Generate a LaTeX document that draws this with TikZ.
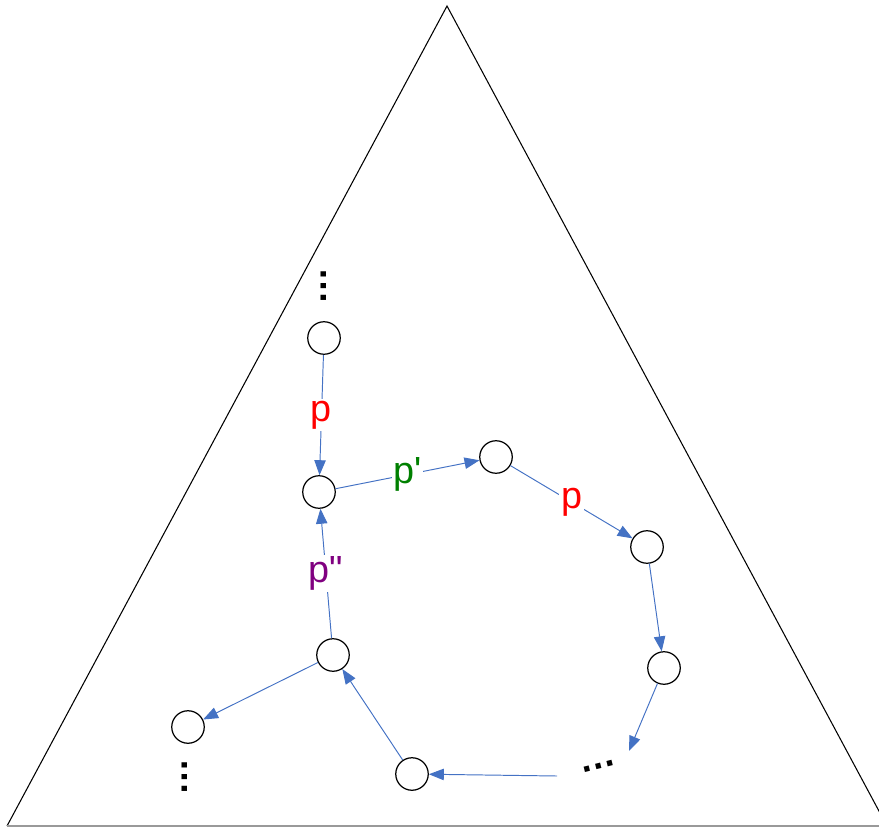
\documentclass[tikz,border=0pt]{standalone}
\usepackage{fontspec}
\setmainfont{Liberation Sans}
\usepackage{xcolor}
\definecolor{cLine}{HTML}{4472C4}
\definecolor{cRed}{HTML}{FF0000}
\definecolor{cGreen}{HTML}{008000}
\definecolor{cPurple}{HTML}{800080}
\usetikzlibrary{arrows.meta}
\tikzset{
  node-state/.style={draw=black,line width=0.7pt,circle,minimum size=6.5mm,
    inner sep=0pt,fill=white},
  arrow/.style={-{Triangle[length=8.5pt,width=6.5pt]},line width=0.55pt,draw=cLine},
  edge-label/.style={fill=white,inner sep=1pt,font=\fontsize{21.5}{25}\selectfont},
  more-dots/.style={font=\bfseries\fontsize{21}{25}\selectfont,inner sep=0pt},
}

\begin{document}
\begin{tikzpicture}[x=0.2mm,y=-0.2mm]
  \useasboundingbox (0,0) rectangle (879,827);
  \clip (0,0) rectangle (879,827);
  \draw[line width=0.6pt] (7,826) -- (447,6) -- (887,826);
  \draw[line width=0.6pt,black!40] (7,826) -- (887,826);
  % states
  \foreach \name/\x/\y in {A/324/338, B/319/492, C/496/457, D/647/547,
      E/664/668, F/412/774, G/333/655, H/188/727} {
    \node[node-state] (\name) at (\x,\y) {};
  }
  \node[more-dots,rotate=90] (dotsA) at (324,286) {…};
  \node[more-dots,rotate=90] (dotsH) at (185,777) {…};
  \node[more-dots,rotate=14] (dotsE) at (599,766) {…};
  \coordinate (endE) at (629,751);
  \coordinate (startF) at (557,776);
  % transitions
  \draw[arrow] (A) -- node[edge-label,text=cRed]{p} (B);
  \draw[arrow] (B) -- node[edge-label,text=cGreen]{p\textquotesingle} (C);
  \draw[arrow] (C) -- node[edge-label,text=cRed]{p} (D);
  \draw[arrow] (D) -- (E);
  \draw[arrow] (E) -- (endE);
  \draw[arrow] (startF) -- (F);
  \draw[arrow] (F) -- (G);
  \draw[arrow] (G) -- node[edge-label,text=cPurple]{p\textquotedbl} (B);
  \draw[arrow] (G) -- (H);
\end{tikzpicture}
\end{document}
